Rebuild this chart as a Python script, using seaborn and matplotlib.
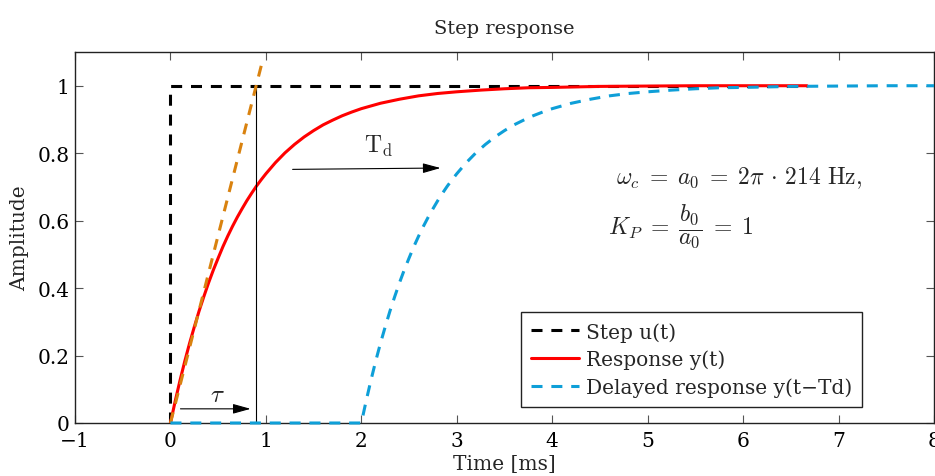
import matplotlib
matplotlib.use("Agg")
import matplotlib.pyplot as plt
import seaborn as sns
from matplotlib.lines import Line2D

# ---- data ----
step_t = [0.0, 0.0, 6.67]
step_y = [0.0, 1.0, 1.0]

resp_t = [0, 0.05, 0.1, 0.15, 0.2, 0.25, 0.3, 0.35, 0.4, 0.45, 0.5, 0.55,
          0.6, 0.65, 0.7, 0.75, 0.8, 0.85, 0.9, 0.95, 1.0, 1.1, 1.2, 1.3,
          1.4, 1.5, 1.6, 1.7, 1.8, 1.9, 2.0, 2.2, 2.4, 2.6, 2.8, 3.0, 3.25,
          3.5, 3.75, 4.0, 4.5, 5.0, 5.5, 6.0, 6.67]
resp_y = [0, 0.065, 0.126, 0.183, 0.236, 0.285, 0.332, 0.375, 0.416, 0.454,
          0.489, 0.523, 0.554, 0.583, 0.610, 0.635, 0.659, 0.681, 0.702,
          0.721, 0.739, 0.772, 0.801, 0.826, 0.848, 0.867, 0.884, 0.898,
          0.911, 0.922, 0.932, 0.948, 0.960, 0.970, 0.977, 0.982, 0.987,
          0.991, 0.994, 0.995, 0.998, 0.999, 1.0, 1.0, 1.0]

delay_t = [0, 2.0, 2.05, 2.1, 2.15, 2.2, 2.25, 2.3, 2.35, 2.4, 2.45, 2.5,
           2.55, 2.6, 2.65, 2.7, 2.75, 2.8, 2.85, 2.9, 2.95, 3.0, 3.1, 3.2,
           3.3, 3.4, 3.5, 3.6, 3.7, 3.8, 3.9, 4.0, 4.2, 4.4, 4.6, 4.8, 5.0,
           5.25, 5.5, 5.75, 6.0, 6.5, 7.0, 7.5, 8.0]
delay_y = [0, 0, 0.065, 0.126, 0.183, 0.236, 0.285, 0.332, 0.375, 0.416,
           0.454, 0.489, 0.523, 0.554, 0.583, 0.610, 0.635, 0.659, 0.681,
           0.702, 0.721, 0.739, 0.772, 0.801, 0.826, 0.848, 0.867, 0.884,
           0.898, 0.911, 0.922, 0.932, 0.948, 0.960, 0.970, 0.977, 0.982,
           0.987, 0.991, 0.994, 0.995, 0.998, 0.999, 1.0, 1.0]

tangent_t = [0.0, 0.97]
tangent_y = [0.0, 1.08]

tau_marker_t = [0.893, 0.893]
tau_marker_y = [0.0, 1.0]

x_ticks = [-1, 0, 1, 2, 3, 4, 5, 6, 7, 8]
x_tick_labels = ["\u22121", "0", "1", "2", "3", "4", "5", "6", "7", "8"]
y_ticks = [0, 0.2, 0.4, 0.6, 0.8, 1.0]
y_tick_labels = ["0", "0.2", "0.4", "0.6", "0.8", "1"]

legend_labels = ["Step u(t)", "Response y(t)", "Delayed response y(t\u2212Td)"]

# ---- styling ----
sns.set_theme(style="ticks")
plt.rcParams["font.family"] = ["DejaVu Serif"]
plt.rcParams["mathtext.fontset"] = "cm"

C_STEP = "black"
C_RESP = "#ff0000"
C_DELAY = "#0e9fd8"
C_TAN = "#d9820f"

fig = plt.figure(figsize=(9.35, 4.77), dpi=100)
ax = fig.add_axes([75 / 935, 1 - 424 / 477, (934 - 75) / 935, (424 - 53) / 477])

dash = (3.6, 2.9)
LW = 2.2

sns.lineplot(x=step_t, y=step_y, ax=ax, estimator=None, sort=False,
             color=C_STEP, lw=LW, zorder=2)
ax.lines[-1].set_dashes(dash)
ax.lines[-1].set_clip_on(False)

sns.lineplot(x=resp_t, y=resp_y, ax=ax, estimator=None, sort=False,
             color=C_RESP, lw=LW, zorder=3, solid_joinstyle="round")

sns.lineplot(x=tangent_t, y=tangent_y, ax=ax, estimator=None, sort=False,
             color=C_TAN, lw=LW, zorder=4)
ax.lines[-1].set_dashes(dash)

sns.lineplot(x=delay_t, y=delay_y, ax=ax, estimator=None, sort=False,
             color=C_DELAY, lw=LW, zorder=5)
ax.lines[-1].set_dashes(dash)
ax.lines[-1].set_clip_on(False)

sns.lineplot(x=tau_marker_t, y=tau_marker_y, ax=ax, estimator=None,
             sort=False, color="black", lw=0.8, zorder=3)

# annotations
arrow_kw = dict(arrowstyle="-|>,head_length=0.9,head_width=0.25",
                color="black", lw=0.8, shrinkA=0, shrinkB=0)
ax.annotate("", xy=(0.84, 0.042), xytext=(0.105, 0.042),
            arrowprops=arrow_kw)
ax.text(0.49, 0.065, r"$\tau$", fontsize=18, ha="center", va="baseline")
ax.annotate("", xy=(2.83, 0.756), xytext=(1.28, 0.752),
            arrowprops=arrow_kw)
ax.text(2.03, 0.805, r"$\mathrm{T_d}$", fontsize=17, ha="left",
        va="baseline")

ax.text(4.67, 0.73,
        r"$\omega_c \;=\; a_0 \;=\; 2\pi \,\cdot\, 214\ \mathrm{Hz},$",
        fontsize=17, ha="left", va="center")
ax.text(4.58, 0.585, r"$K_P \;=\; \dfrac{b_0}{a_0} \;=\; 1$",
        fontsize=17, ha="left", va="center")

# axes
ax.set_xlim(-1, 8)
ax.set_ylim(0, 1.1)
ax.set_xticks(x_ticks)
ax.set_xticklabels(x_tick_labels)
ax.set_yticks(y_ticks)
ax.set_yticklabels(y_tick_labels)
ax.tick_params(direction="in", length=6, width=0.8, color="#555555",
               labelsize=14.5, top=True, right=True, labelcolor="black")
ax.tick_params(axis="x", pad=6)
ax.tick_params(axis="y", pad=4)
for s in ax.spines.values():
    s.set_visible(True)
    s.set_linewidth(1.0)
    s.set_color("#222222")

ax.set_title("Step response", fontsize=14, pad=14)
ax.set_xlabel("Time [ms]", fontsize=14.5, labelpad=3)
ax.set_ylabel("Amplitude", fontsize=14.5, labelpad=6)

handles = [
    Line2D([], [], color=C_STEP, lw=LW, dashes=dash),
    Line2D([], [], color=C_RESP, lw=LW),
    Line2D([], [], color=C_DELAY, lw=LW, dashes=dash),
]
leg = ax.legend(handles, legend_labels, loc="lower right",
                bbox_to_anchor=((862 - 75) / (934 - 75), (424 - 408) / 371),
                borderaxespad=0, fontsize=14.5, frameon=True, fancybox=False,
                edgecolor="#222222", framealpha=1, handlelength=2.35,
                handletextpad=0.35, labelspacing=0.4, borderpad=0.5)
leg.get_frame().set_linewidth(1.0)

fig.savefig("out.png", dpi=100)
